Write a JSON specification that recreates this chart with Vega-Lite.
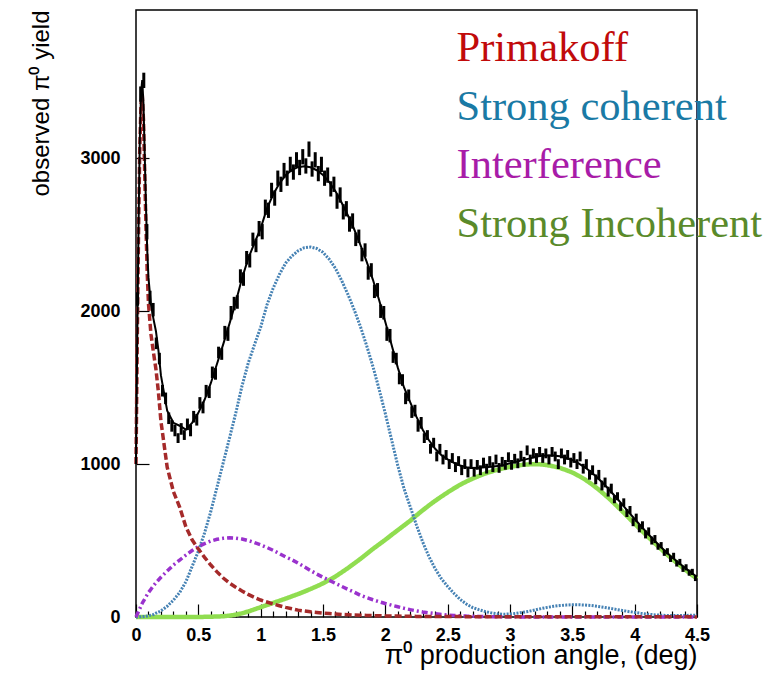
{
"$schema": "https://vega.github.io/schema/vega-lite/v6.json",
"width": 561, "height": 607,
"autosize": {"type": "none"},
"padding": {"left": 136, "top": 10, "right": 87, "bottom": 56},
"background": "white",
"config": {
 "view": {"stroke": "black", "strokeWidth": 1.5},
 "axis": {"grid": false, "domain": false, "zindex": 1, "tickColor": "black", "tickWidth": 1.2,
  "labelFont": "Liberation Sans", "labelFontWeight": "bold", "labelFontSize": 18, "labelColor": "black",
  "titleFont": "Liberation Sans", "titleFontWeight": "normal", "titleColor": "black", "titleAnchor": "end",
  "labelOverlap": false, "labelFlush": false},
 "axisX": {"tickSize": {"condition": {"test": "abs(datum.value*2 - round(datum.value*2)) < 0.01", "value": -13}, "value": -6}, "labelPadding": 22, "titleFontSize": 27, "titlePadding": -9},
 "axisY": {"tickSize": -13, "labelPadding": 29, "titleFontSize": 24, "titlePadding": 26}
},
"datasets": {
"curves": [
{"x":0,"p":1000,"s":0,"i":0,"g":0,"t":1000},
{"x":0.01,"p":1800,"s":0,"i":18,"g":0,"t":1818},
{"x":0.02,"p":2500,"s":0,"i":36,"g":0,"t":2536},
{"x":0.03,"p":3050,"s":1,"i":54,"g":0,"t":3105},
{"x":0.04,"p":3350,"s":1,"i":72,"g":0,"t":3423},
{"x":0.05,"p":3420,"s":2,"i":90,"g":0,"t":3512},
{"x":0.06,"p":3250,"s":3,"i":104,"g":0,"t":3357},
{"x":0.07,"p":2900,"s":4,"i":118,"g":0,"t":3022},
{"x":0.08,"p":2550,"s":5,"i":132,"g":0,"t":2687},
{"x":0.09,"p":2250,"s":6,"i":146,"g":0,"t":2402},
{"x":0.10,"p":2050,"s":8,"i":160,"g":0,"t":2218},
{"x":0.12,"p":1850,"s":12,"i":182,"g":0,"t":2044},
{"x":0.14,"p":1730,"s":16,"i":204,"g":0,"t":1950},
{"x":0.16,"p":1620,"s":25,"i":224,"g":0,"t":1869},
{"x":0.18,"p":1470,"s":32,"i":242,"g":0,"t":1744},
{"x":0.20,"p":1280,"s":40,"i":260,"g":0,"t":1580},
{"x":0.25,"p":980,"s":70,"i":300,"g":0,"t":1350},
{"x":0.30,"p":820,"s":110,"i":340,"g":0,"t":1270},
{"x":0.35,"p":719,"s":160,"i":372,"g":0,"t":1251},
{"x":0.40,"p":590,"s":230,"i":405,"g":0,"t":1225},
{"x":0.45,"p":505,"s":330,"i":435,"g":0,"t":1270},
{"x":0.50,"p":445,"s":430,"i":460,"g":0,"t":1335},
{"x":0.55,"p":390,"s":550,"i":480,"g":1,"t":1421},
{"x":0.60,"p":340,"s":690,"i":497,"g":2,"t":1529},
{"x":0.65,"p":295,"s":850,"i":508,"g":3,"t":1656},
{"x":0.70,"p":255,"s":1010,"i":515,"g":5,"t":1785},
{"x":0.75,"p":222,"s":1170,"i":518,"g":9,"t":1919},
{"x":0.80,"p":195,"s":1333,"i":516,"g":15,"t":2059},
{"x":0.85,"p":170,"s":1510,"i":510,"g":24,"t":2214},
{"x":0.90,"p":148,"s":1660,"i":500,"g":36,"t":2344},
{"x":0.95,"p":128,"s":1780,"i":487,"g":50,"t":2445},
{"x":1.00,"p":111,"s":1895,"i":472,"g":64,"t":2542},
{"x":1.05,"p":98,"s":2040,"i":455,"g":78,"t":2671},
{"x":1.10,"p":85,"s":2150,"i":436,"g":92,"t":2763},
{"x":1.15,"p":74,"s":2240,"i":415,"g":106,"t":2835},
{"x":1.20,"p":63,"s":2314,"i":393,"g":120,"t":2890},
{"x":1.25,"p":54,"s":2360,"i":375,"g":135,"t":2924},
{"x":1.30,"p":45,"s":2395,"i":352,"g":150,"t":2942},
{"x":1.35,"p":39,"s":2415,"i":328,"g":166,"t":2948},
{"x":1.40,"p":34,"s":2420,"i":304,"g":183,"t":2941},
{"x":1.45,"p":30,"s":2410,"i":281,"g":201,"t":2922},
{"x":1.50,"p":26,"s":2385,"i":260,"g":220,"t":2891},
{"x":1.55,"p":23,"s":2340,"i":240,"g":242,"t":2845},
{"x":1.60,"p":20,"s":2280,"i":220,"g":265,"t":2785},
{"x":1.65,"p":17,"s":2200,"i":200,"g":292,"t":2709},
{"x":1.70,"p":15,"s":2110,"i":181,"g":320,"t":2626},
{"x":1.75,"p":13,"s":2010,"i":163,"g":350,"t":2536},
{"x":1.80,"p":12,"s":1900,"i":142,"g":380,"t":2434},
{"x":1.85,"p":10,"s":1775,"i":127,"g":412,"t":2324},
{"x":1.90,"p":9,"s":1640,"i":113,"g":445,"t":2207},
{"x":1.95,"p":8,"s":1490,"i":100,"g":475,"t":2073},
{"x":2.00,"p":7,"s":1330,"i":88,"g":505,"t":1930},
{"x":2.05,"p":6,"s":1160,"i":77,"g":537,"t":1780},
{"x":2.10,"p":6,"s":990,"i":67,"g":568,"t":1631},
{"x":2.15,"p":5,"s":840,"i":57,"g":599,"t":1501},
{"x":2.20,"p":5,"s":720,"i":48,"g":630,"t":1403},
{"x":2.25,"p":4,"s":600,"i":40,"g":665,"t":1309},
{"x":2.30,"p":4,"s":490,"i":33,"g":698,"t":1225},
{"x":2.35,"p":4,"s":395,"i":27,"g":730,"t":1156},
{"x":2.40,"p":3,"s":315,"i":22,"g":760,"t":1100},
{"x":2.45,"p":3,"s":250,"i":17,"g":788,"t":1058},
{"x":2.50,"p":3,"s":200,"i":13,"g":815,"t":1031},
{"x":2.55,"p":3,"s":155,"i":10,"g":841,"t":1009},
{"x":2.60,"p":3,"s":115,"i":8,"g":865,"t":991},
{"x":2.65,"p":2,"s":85,"i":6,"g":886,"t":979},
{"x":2.70,"p":2,"s":62,"i":5,"g":905,"t":974},
{"x":2.75,"p":2,"s":48,"i":4,"g":922,"t":976},
{"x":2.80,"p":2,"s":36,"i":3,"g":938,"t":979},
{"x":2.85,"p":2,"s":27,"i":2,"g":951,"t":982},
{"x":2.90,"p":2,"s":21,"i":2,"g":963,"t":988},
{"x":2.95,"p":2,"s":18,"i":1,"g":973,"t":994},
{"x":3.00,"p":2,"s":20,"i":1,"g":982,"t":1005},
{"x":3.05,"p":2,"s":24,"i":1,"g":989,"t":1016},
{"x":3.10,"p":1,"s":30,"i":0,"g":995,"t":1026},
{"x":3.15,"p":1,"s":37,"i":0,"g":998,"t":1036},
{"x":3.20,"p":1,"s":46,"i":0,"g":1000,"t":1047},
{"x":3.25,"p":1,"s":55,"i":0,"g":998,"t":1054},
{"x":3.30,"p":1,"s":63,"i":0,"g":993,"t":1057},
{"x":3.35,"p":1,"s":70,"i":0,"g":985,"t":1056},
{"x":3.40,"p":1,"s":75,"i":0,"g":975,"t":1051},
{"x":3.45,"p":1,"s":78,"i":0,"g":961,"t":1040},
{"x":3.50,"p":1,"s":80,"i":0,"g":945,"t":1026},
{"x":3.55,"p":1,"s":80,"i":0,"g":924,"t":1005},
{"x":3.60,"p":1,"s":78,"i":0,"g":900,"t":979},
{"x":3.65,"p":1,"s":75,"i":0,"g":872,"t":948},
{"x":3.70,"p":1,"s":70,"i":0,"g":841,"t":912},
{"x":3.75,"p":1,"s":64,"i":0,"g":807,"t":872},
{"x":3.80,"p":1,"s":57,"i":0,"g":771,"t":829},
{"x":3.85,"p":1,"s":50,"i":0,"g":732,"t":783},
{"x":3.90,"p":1,"s":43,"i":0,"g":692,"t":736},
{"x":3.95,"p":1,"s":36,"i":0,"g":651,"t":688},
{"x":4.00,"p":1,"s":30,"i":0,"g":610,"t":641},
{"x":4.05,"p":1,"s":24,"i":0,"g":570,"t":595},
{"x":4.10,"p":1,"s":19,"i":0,"g":530,"t":550},
{"x":4.15,"p":1,"s":15,"i":0,"g":491,"t":507},
{"x":4.20,"p":1,"s":12,"i":0,"g":453,"t":466},
{"x":4.25,"p":1,"s":10,"i":0,"g":416,"t":427},
{"x":4.30,"p":1,"s":9,"i":0,"g":380,"t":390},
{"x":4.35,"p":1,"s":9,"i":0,"g":346,"t":356},
{"x":4.40,"p":1,"s":10,"i":0,"g":313,"t":324},
{"x":4.45,"p":1,"s":11,"i":0,"g":281,"t":293},
{"x":4.50,"p":0,"s":12,"i":0,"g":250,"t":262}
],
"hist": [
{"x":0.0125,"y":2080,"e":44},{"x":0.0375,"y":3420,"e":50},{"x":0.0625,"y":3510,"e":50},{"x":0.0875,"y":2520,"e":50},
{"x":0.1125,"y":2090,"e":44},{"x":0.1375,"y":2010,"e":44},{"x":0.1625,"y":1790,"e":38},{"x":0.1875,"y":1690,"e":38},
{"x":0.2125,"y":1480,"e":38},{"x":0.2375,"y":1430,"e":38},{"x":0.2625,"y":1300,"e":38},{"x":0.2875,"y":1250,"e":38},
{"x":0.3125,"y":1220,"e":38},{"x":0.3375,"y":1170,"e":32},{"x":0.3625,"y":1230,"e":38},{"x":0.3875,"y":1190,"e":32},
{"x":0.4125,"y":1260,"e":38},{"x":0.4375,"y":1220,"e":38},{"x":0.4625,"y":1310,"e":38},{"x":0.4875,"y":1290,"e":38},
{"x":0.5125,"y":1400,"e":38},{"x":0.5375,"y":1370,"e":38},{"x":0.5625,"y":1480,"e":38},{"x":0.5875,"y":1470,"e":38},
{"x":0.6125,"y":1600,"e":38},{"x":0.6375,"y":1590,"e":38},{"x":0.6625,"y":1730,"e":38},{"x":0.6875,"y":1720,"e":38},
{"x":0.7125,"y":1860,"e":44},{"x":0.7375,"y":1850,"e":44},{"x":0.7625,"y":1990,"e":44},{"x":0.7875,"y":2050,"e":44},
{"x":0.8125,"y":2060,"e":44},{"x":0.8375,"y":2230,"e":44},{"x":0.8625,"y":2210,"e":44},{"x":0.8875,"y":2350,"e":44},
{"x":0.9125,"y":2330,"e":44},{"x":0.9375,"y":2470,"e":44},{"x":0.9625,"y":2430,"e":44},{"x":0.9875,"y":2540,"e":50},
{"x":1.0125,"y":2520,"e":50},{"x":1.0375,"y":2680,"e":50},{"x":1.0625,"y":2660,"e":50},{"x":1.0875,"y":2790,"e":50},
{"x":1.1125,"y":2740,"e":50},{"x":1.1375,"y":2870,"e":50},{"x":1.1625,"y":2830,"e":50},{"x":1.1875,"y":2920,"e":50},
{"x":1.2125,"y":2870,"e":50},{"x":1.2375,"y":2960,"e":50},{"x":1.2625,"y":2910,"e":50},{"x":1.2875,"y":2990,"e":50},
{"x":1.3125,"y":2940,"e":50},{"x":1.3375,"y":3010,"e":50},{"x":1.3625,"y":2950,"e":50},{"x":1.3875,"y":3060,"e":50},
{"x":1.4125,"y":2930,"e":50},{"x":1.4375,"y":2990,"e":50},{"x":1.4625,"y":2900,"e":50},{"x":1.4875,"y":2960,"e":50},
{"x":1.5125,"y":2870,"e":50},{"x":1.5375,"y":2890,"e":50},{"x":1.5625,"y":2800,"e":50},{"x":1.5875,"y":2830,"e":50},
{"x":1.6125,"y":2720,"e":50},{"x":1.6375,"y":2760,"e":50},{"x":1.6625,"y":2650,"e":50},{"x":1.6875,"y":2670,"e":50},
{"x":1.7125,"y":2570,"e":50},{"x":1.7375,"y":2590,"e":50},{"x":1.7625,"y":2470,"e":44},{"x":1.7875,"y":2490,"e":44},
{"x":1.8125,"y":2370,"e":44},{"x":1.8375,"y":2400,"e":44},{"x":1.8625,"y":2250,"e":44},{"x":1.8875,"y":2270,"e":44},
{"x":1.9125,"y":2130,"e":44},{"x":1.9375,"y":2140,"e":44},{"x":1.9625,"y":2000,"e":44},{"x":1.9875,"y":1990,"e":44},
{"x":2.0125,"y":1850,"e":44},{"x":2.0375,"y":1840,"e":44},{"x":2.0625,"y":1700,"e":38},{"x":2.0875,"y":1690,"e":38},
{"x":2.1125,"y":1560,"e":38},{"x":2.1375,"y":1550,"e":38},{"x":2.1625,"y":1430,"e":38},{"x":2.1875,"y":1450,"e":38},
{"x":2.2125,"y":1340,"e":38},{"x":2.2375,"y":1350,"e":38},{"x":2.2625,"y":1250,"e":38},{"x":2.2875,"y":1270,"e":38},
{"x":2.3125,"y":1170,"e":32},{"x":2.3375,"y":1190,"e":32},{"x":2.3625,"y":1100,"e":32},{"x":2.3875,"y":1140,"e":32},
{"x":2.4125,"y":1050,"e":32},{"x":2.4375,"y":1100,"e":32},{"x":2.4625,"y":1030,"e":32},{"x":2.4875,"y":1060,"e":32},
{"x":2.5125,"y":1000,"e":32},{"x":2.5375,"y":1040,"e":32},{"x":2.5625,"y":980,"e":32},{"x":2.5875,"y":1020,"e":32},
{"x":2.6125,"y":960,"e":32},{"x":2.6375,"y":1000,"e":32},{"x":2.6625,"y":945,"e":32},{"x":2.6875,"y":1000,"e":32},
{"x":2.7125,"y":950,"e":32},{"x":2.7375,"y":995,"e":32},{"x":2.7625,"y":960,"e":32},{"x":2.7875,"y":1010,"e":32},
{"x":2.8125,"y":970,"e":32},{"x":2.8375,"y":1020,"e":32},{"x":2.8625,"y":980,"e":32},{"x":2.8875,"y":1030,"e":32},
{"x":2.9125,"y":975,"e":32},{"x":2.9375,"y":1015,"e":32},{"x":2.9625,"y":995,"e":32},{"x":2.9875,"y":1045,"e":32},
{"x":3.0125,"y":995,"e":32},{"x":3.0375,"y":1035,"e":32},{"x":3.0625,"y":1005,"e":32},{"x":3.0875,"y":1055,"e":32},
{"x":3.1125,"y":1015,"e":32},{"x":3.1375,"y":1090,"e":32},{"x":3.1625,"y":1030,"e":32},{"x":3.1875,"y":1070,"e":32},
{"x":3.2125,"y":1040,"e":32},{"x":3.2375,"y":1080,"e":32},{"x":3.2625,"y":1040,"e":32},{"x":3.2875,"y":1070,"e":32},
{"x":3.3125,"y":1030,"e":32},{"x":3.3375,"y":1080,"e":32},{"x":3.3625,"y":1050,"e":32},{"x":3.3875,"y":1000,"e":32},
{"x":3.4125,"y":1070,"e":32},{"x":3.4375,"y":1030,"e":32},{"x":3.4625,"y":1060,"e":32},{"x":3.4875,"y":1010,"e":32},
{"x":3.5125,"y":1040,"e":32},{"x":3.5375,"y":1000,"e":32},{"x":3.5625,"y":1050,"e":32},{"x":3.5875,"y":970,"e":32},
{"x":3.6125,"y":1000,"e":32},{"x":3.6375,"y":930,"e":32},{"x":3.6625,"y":960,"e":32},{"x":3.6875,"y":900,"e":32},
{"x":3.7125,"y":930,"e":32},{"x":3.7375,"y":860,"e":32},{"x":3.7625,"y":880,"e":32},{"x":3.7875,"y":820,"e":32},
{"x":3.8125,"y":840,"e":32},{"x":3.8375,"y":770,"e":26},{"x":3.8625,"y":790,"e":26},{"x":3.8875,"y":720,"e":26},
{"x":3.9125,"y":750,"e":26},{"x":3.9375,"y":680,"e":26},{"x":3.9625,"y":700,"e":26},{"x":3.9875,"y":620,"e":26},
{"x":4.0125,"y":650,"e":26},{"x":4.0375,"y":580,"e":26},{"x":4.0625,"y":600,"e":26},{"x":4.0875,"y":540,"e":26},
{"x":4.1125,"y":560,"e":26},{"x":4.1375,"y":500,"e":26},{"x":4.1625,"y":510,"e":26},{"x":4.1875,"y":460,"e":20},
{"x":4.2125,"y":470,"e":20},{"x":4.2375,"y":420,"e":20},{"x":4.2625,"y":430,"e":20},{"x":4.2875,"y":380,"e":20},
{"x":4.3125,"y":400,"e":20},{"x":4.3375,"y":350,"e":20},{"x":4.3625,"y":360,"e":20},{"x":4.3875,"y":315,"e":20},
{"x":4.4125,"y":325,"e":20},{"x":4.4375,"y":290,"e":20},{"x":4.4625,"y":295,"e":20},{"x":4.4875,"y":255,"e":20}
]
},
"layer": [
{
"data": {"name": "curves"},
"transform": [{"fold": ["g", "s", "i", "p"], "as": ["comp", "v"]}],
"mark": {"type": "line"},
"encoding": {
"x": {"field": "x", "type": "quantitative",
 "scale": {"domain": [0, 4.5], "nice": false, "zero": false},
 "axis": {
  "values": [0,0.1,0.2,0.3,0.4,0.5,0.6,0.7,0.8,0.9,1,1.1,1.2,1.3,1.4,1.5,1.6,1.7,1.8,1.9,2,2.1,2.2,2.3,2.4,2.5,2.6,2.7,2.8,2.9,3,3.1,3.2,3.3,3.4,3.5,3.6,3.7,3.8,3.9,4,4.1,4.2,4.3,4.4,4.5],
  "labelExpr": "abs(datum.value*2 - round(datum.value*2)) < 0.01 ? toString(datum.value) : ''",
  "title": "π⁰ production angle, (deg)"
 }},
"y": {"field": "v", "type": "quantitative",
 "scale": {"domain": [0, 3970], "nice": false},
 "axis": {"values": [0, 1000, 2000, 3000], "format": "d", "title": "observed π⁰ yield"}},
"color": {"field": "comp", "type": "nominal",
 "scale": {"domain": ["p", "s", "i", "g"], "range": ["#a52a2a", "#4682b4", "#9a32cd", "#90dd50"]},
 "legend": {
  "orient": "none", "legendX": 278, "legendY": 17, "title": null,
  "labelFont": "Liberation Serif", "labelFontSize": 42.5, "labelLimit": 600,
  "symbolSize": 0, "symbolOpacity": 0, "symbolStrokeWidth": 0, "labelOffset": 0, "rowPadding": 15.5,
  "labelExpr": "datum.value == 'p' ? 'Primakoff' : datum.value == 's' ? 'Strong coherent' : datum.value == 'i' ? 'Interference' : 'Strong Incoherent'",
  "encode": {"labels": {"update": {"fill": {"signal": "datum.value == 'p' ? '#c10a0a' : datum.value == 's' ? '#1a7aa5' : datum.value == 'i' ? '#a81ca8' : '#5a8a2a'"}}}}
 }},
"strokeDash": {"field": "comp", "type": "nominal",
 "scale": {"domain": ["p", "s", "i", "g"], "range": [[7, 3], [2, 1.3], [6, 3, 2, 3], [1, 0]]}, "legend": null},
"strokeWidth": {"field": "comp", "type": "nominal",
 "scale": {"type": "ordinal", "domain": ["p", "s", "i", "g"], "range": [3.5, 3, 3.5, 4.5]}, "legend": null}
}
},
{
"data": {"name": "hist"},
"mark": {"type": "errorbar", "thickness": 3, "color": "black"},
"encoding": {
"x": {"field": "x", "type": "quantitative",
 "axis": {
  "values": [0,0.1,0.2,0.3,0.4,0.5,0.6,0.7,0.8,0.9,1,1.1,1.2,1.3,1.4,1.5,1.6,1.7,1.8,1.9,2,2.1,2.2,2.3,2.4,2.5,2.6,2.7,2.8,2.9,3,3.1,3.2,3.3,3.4,3.5,3.6,3.7,3.8,3.9,4,4.1,4.2,4.3,4.4,4.5],
  "labelExpr": "abs(datum.value*2 - round(datum.value*2)) < 0.01 ? toString(datum.value) : ''",
  "title": "π⁰ production angle, (deg)"
 }},
"y": {"field": "y", "type": "quantitative",
 "axis": {"values": [0, 1000, 2000, 3000], "format": "d", "title": "observed π⁰ yield"}},
"yError": {"field": "e"}
}
},
{
"data": {"name": "curves"},
"mark": {"type": "line", "color": "black", "strokeWidth": 2},
"encoding": {
"x": {"field": "x", "type": "quantitative",
 "axis": {
  "values": [0,0.1,0.2,0.3,0.4,0.5,0.6,0.7,0.8,0.9,1,1.1,1.2,1.3,1.4,1.5,1.6,1.7,1.8,1.9,2,2.1,2.2,2.3,2.4,2.5,2.6,2.7,2.8,2.9,3,3.1,3.2,3.3,3.4,3.5,3.6,3.7,3.8,3.9,4,4.1,4.2,4.3,4.4,4.5],
  "labelExpr": "abs(datum.value*2 - round(datum.value*2)) < 0.01 ? toString(datum.value) : ''",
  "title": "π⁰ production angle, (deg)"
 }},
"y": {"field": "t", "type": "quantitative",
 "axis": {"values": [0, 1000, 2000, 3000], "format": "d", "title": "observed π⁰ yield"}}
}
}
]
}
